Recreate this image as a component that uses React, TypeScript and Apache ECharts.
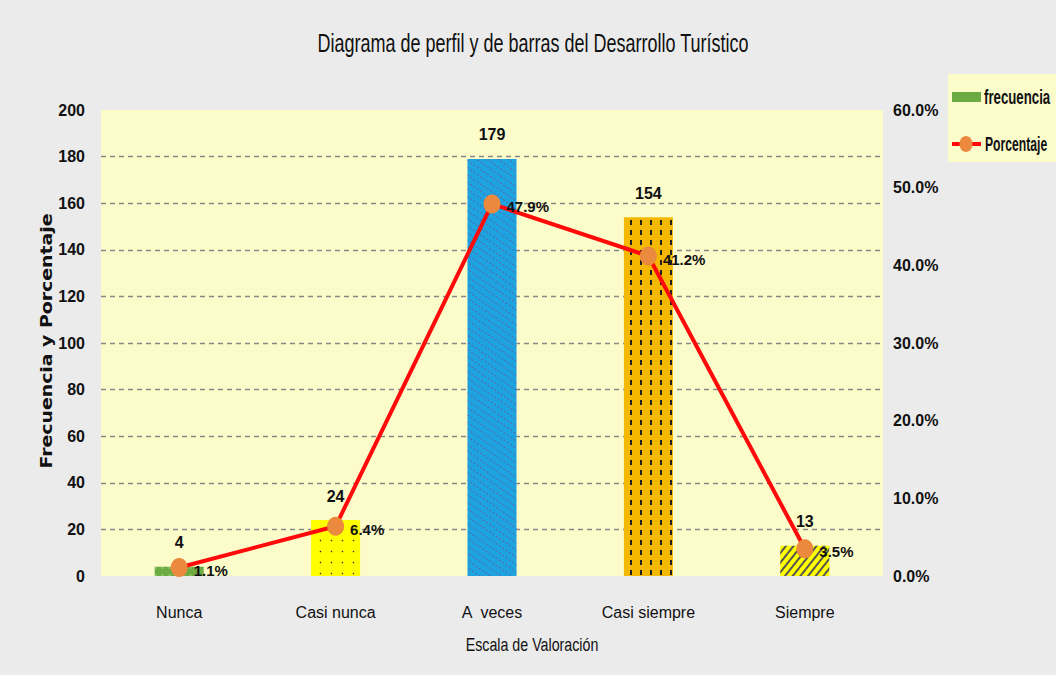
import React, { useEffect, useRef } from "react";
import * as echarts from "echarts";

const categories = ["Nunca", "Casi nunca", "A  veces", "Casi siempre", "Siempre"];
const frecuencia = [4, 24, 179, 154, 13];
const porcentaje = [1.1, 6.4, 47.9, 41.2, 3.5];
const leftTicks = { min: 0, max: 200, interval: 20 };
const rightTicks = { min: 0, max: 60, interval: 10 };
const titleText = "Diagrama de perfil y de barras del Desarrollo Turístico";
const xAxisTitle = "Escala de Valoración";
const yAxisTitle = "Frecuencia y Porcentaje";
const legendNames = ["frecuencia", "Porcentaje"];

const FONT = "'Liberation Sans', Arial, sans-serif";
const GREEN = "#6CAB42";

const barStyles = [
  { color: GREEN, decal: { symbol: "rect", symbolSize: 0.6, color: "rgba(200,240,170,0.8)", dashArrayX: [3, 4], dashArrayY: [2, 5] } },
  { color: "#FFFF00", decal: { symbol: "circle", symbolSize: 0.5, color: "#333", dashArrayX: [3, 8], dashArrayY: [3, 8] } },
  { color: "#1DA3DF", decal: { symbol: "rect", symbolSize: 1, color: "rgba(110,80,150,0.75)", dashArrayX: [2, 2], dashArrayY: [1, 5], rotation: 0.6 } },
  { color: "#F4B800", decal: { symbol: "rect", symbolSize: 1, color: "#222", dashArrayX: [1.2, 8], dashArrayY: [5, 5] } },
  { color: "#FFFF00", decal: { symbol: "rect", symbolSize: 1, color: "#555", dashArrayX: [1, 0], dashArrayY: [1.5, 4], rotation: -0.9 } },
];

export default function App() {
  const ref = useRef<HTMLDivElement>(null);
  useEffect(() => {
    if (!ref.current) return;
    const chart = echarts.init(ref.current, null, { renderer: "svg" });
    chart.setOption({
      animation: false,
      backgroundColor: "#EBEBEB",
      graphic: [
        {
          type: "text",
          x: 533,
          y: 43,
          scaleX: 0.72,
          style: { text: titleText, fontFamily: FONT, fontSize: 25, fill: "#111", textAlign: "center", textVerticalAlign: "middle" },
        },
        {
          type: "text",
          x: 532,
          y: 645,
          scaleX: 0.75,
          style: { text: xAxisTitle, fontFamily: FONT, fontSize: 19, fill: "#111", textAlign: "center", textVerticalAlign: "middle" },
        },
        {
          type: "text",
          x: 47,
          y: 341,
          rotation: Math.PI / 2,
          scaleX: 1.18,
          style: { text: yAxisTitle, fontFamily: "'DejaVu Sans', sans-serif", fontSize: 16, fontWeight: "bold", fill: "#111", textAlign: "center", textVerticalAlign: "middle" },
        },
        { type: "rect", shape: { x: 948, y: 74, width: 120, height: 88 }, style: { fill: "#FCFCCB" }, z: 1 },
        { type: "rect", shape: { x: 952, y: 92, width: 29, height: 10 }, style: { fill: GREEN }, z: 2 },
        {
          type: "text",
          x: 984,
          y: 97,
          scaleX: 0.63,
          z: 2,
          style: { text: legendNames[0], fontFamily: FONT, fontSize: 21, fontWeight: "bold", fill: "#111", textAlign: "left", textVerticalAlign: "middle" },
        },
        { type: "line", shape: { x1: 952, y1: 144, x2: 981, y2: 144 }, style: { stroke: "#FF0A0A", lineWidth: 4 }, z: 2 },
        { type: "ellipse", shape: { cx: 966, cy: 144, rx: 6.5, ry: 8 }, style: { fill: "#EB8A3E" }, z: 3 },
        {
          type: "text",
          x: 985,
          y: 144,
          scaleX: 0.58,
          z: 2,
          style: { text: legendNames[1], fontFamily: FONT, fontSize: 21, fontWeight: "bold", fill: "#111", textAlign: "left", textVerticalAlign: "middle" },
        },
      ],
      grid: {
        left: 101,
        right: 173,
        top: 110,
        bottom: 99,
        show: true,
        backgroundColor: "#FCFCCB",
        borderWidth: 0,
      },
      xAxis: {
        type: "category",
        data: categories,
        axisLine: { show: false },
        axisTick: { show: false },
        axisLabel: { fontFamily: FONT, fontSize: 16, color: "#111", margin: 28 },
      },
      yAxis: [
        {
          type: "value",
          ...leftTicks,
          axisLine: { show: false },
          axisTick: { show: false },
          axisLabel: { fontFamily: FONT, fontSize: 16, fontWeight: "bold", color: "#111", margin: 16 },
          splitLine: { show: true, showMaxLine: false, showMinLine: false, lineStyle: { color: "#888", type: [5, 4], width: 1.3 } },
        },
        {
          type: "value",
          ...rightTicks,
          axisLine: { show: false },
          axisTick: { show: false },
          splitLine: { show: false },
          axisLabel: {
            fontFamily: FONT,
            fontSize: 16,
            fontWeight: "bold",
            color: "#111",
            margin: 10,
            formatter: (v: number) => v.toFixed(1) + "%",
          },
        },
      ],
      series: [
        {
          name: "frecuencia",
          type: "bar",
          barWidth: 49,
          itemStyle: { color: GREEN },
          data: frecuencia.map((v, i) => ({ value: v, itemStyle: barStyles[i] })),
          label: {
            show: true,
            position: "top",
            distance: 16,
            fontFamily: FONT,
            fontSize: 16,
            fontWeight: "bold",
            color: "#111",
          },
          z: 2,
        },
        {
          name: "Porcentaje",
          type: "line",
          yAxisIndex: 1,
          data: porcentaje,
          symbol: "circle",
          symbolSize: [17, 19],
          lineStyle: { color: "#FF0A0A", width: 4 },
          itemStyle: { color: "#EB8A3E" },
          label: {
            show: true,
            position: "right",
            distance: 6,
            offset: [0, 3],
            fontFamily: FONT,
            fontSize: 15,
            fontWeight: "bold",
            color: "#111",
            formatter: (p: any) => p.value.toFixed(1) + "%",
          },
          z: 5,
        },
      ],
    });
    return () => chart.dispose();
  }, []);
  return <div ref={ref} style={{ position: "absolute", left: 0, top: 0, width: 1056, height: 675 }} />;
}
